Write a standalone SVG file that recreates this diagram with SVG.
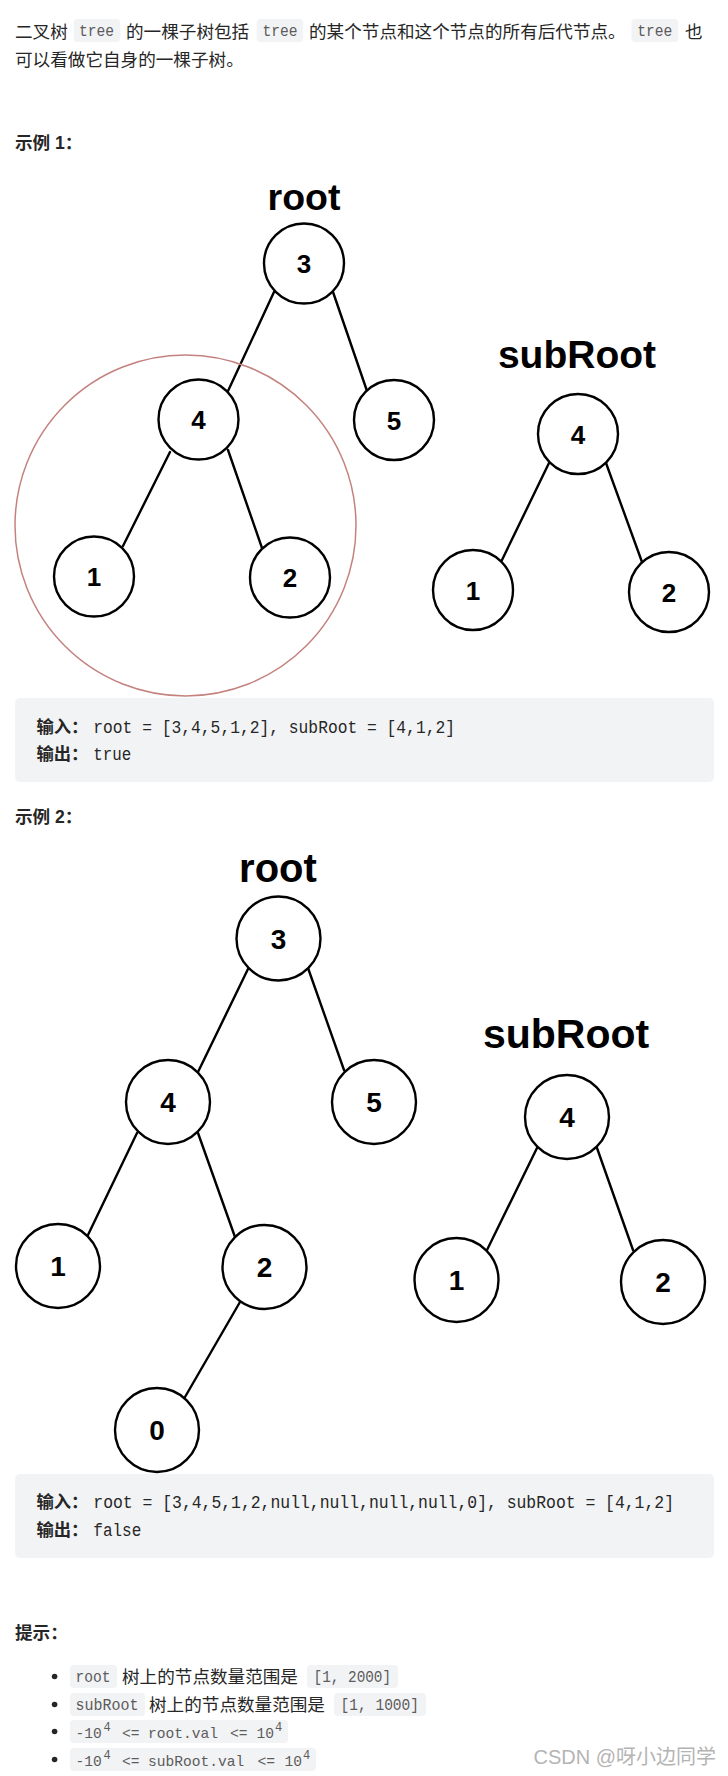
<svg xmlns="http://www.w3.org/2000/svg" width="728" height="1776" viewBox="0 0 728 1776">
<style>
.body{font-family:"Liberation Sans","Noto Sans CJK SC",sans-serif;font-size:17.6px;fill:#262626}
.bold{font-family:"Liberation Sans","Noto Sans CJK SC",sans-serif;font-size:17.6px;font-weight:bold;fill:#262626}
.chip{fill:#f2f3f5}
.chiptxt{font-family:"Liberation Mono","Noto Sans CJK SC",monospace;font-size:16px;fill:#5c5c5c}
.mathtxt{font-family:"Liberation Mono",monospace;font-size:14.6px;fill:#5c5c5c}
.sup{font-size:12px}
.code{font-family:"Liberation Mono","Noto Sans CJK SC",monospace;font-size:17.5px;fill:#262626}
.codecjk{font-family:"Noto Sans CJK SC",sans-serif;font-size:17px;font-weight:bold;fill:#262626}
.block{fill:#f2f3f5}
.node circle{fill:#fff;stroke:#000;stroke-width:2.4}
.n1 text{font-family:"Liberation Sans",Arial,sans-serif;font-size:26px;font-weight:bold;text-anchor:middle;fill:#000}
.n2 text{font-family:"Liberation Sans",Arial,sans-serif;font-size:28px;font-weight:bold;text-anchor:middle;fill:#000}
.lbl{font-family:"Liberation Sans",Arial,sans-serif;font-weight:bold;text-anchor:middle;fill:#000}
.edges line{stroke:#000;stroke-width:2.4;stroke-linecap:round}
</style>

<g id="intro">
<text class="body" x="15" y="38">二叉树</text>
<rect class="chip" x="73.7" y="19" width="46.7" height="23" rx="4"/>
<text class="chiptxt" x="79" y="36" textLength="35" lengthAdjust="spacingAndGlyphs">tree</text>
<text class="body" x="126" y="38">的一棵子树包括</text>
<rect class="chip" x="256.6" y="19" width="46.7" height="23" rx="4"/>
<text class="chiptxt" x="262.5" y="36" textLength="35" lengthAdjust="spacingAndGlyphs">tree</text>
<text class="body" x="309" y="38">的某个节点和这个节点的所有后代节点。</text>
<rect class="chip" x="631.4" y="19" width="46.7" height="23" rx="4"/>
<text class="chiptxt" x="637.2" y="36" textLength="35" lengthAdjust="spacingAndGlyphs">tree</text>
<text class="body" x="685" y="38">也</text>
<text class="body" x="15" y="66">可以看做它自身的一棵子树。</text>
</g>

<text class="bold" x="15" y="149">示例 1：</text>

<text class="lbl" x="304" y="210" font-size="37.5">root</text>
<text class="lbl" x="577" y="368" font-size="39">subRoot</text>

<g id="edges1" class="edges">
<line x1="274" y1="292" x2="228" y2="391"/>
<line x1="333" y1="292" x2="367" y2="391"/>
<line x1="170" y1="452" x2="123" y2="546"/>
<line x1="228" y1="450" x2="262" y2="548"/>
<line x1="549" y1="463" x2="502" y2="560"/>
<line x1="606" y1="463" x2="642" y2="562"/>
</g>

<g id="e1-n3" class="node n1"><circle cx="304" cy="263.5" r="40"/><text x="304" y="273">3</text></g>
<g id="e1-n4" class="node n1"><circle cx="198.5" cy="419.5" r="40"/><text x="198.5" y="429">4</text></g>
<g id="e1-n5" class="node n1"><circle cx="394" cy="420" r="40"/><text x="394" y="429.5">5</text></g>
<g id="e1-n1" class="node n1"><circle cx="94" cy="576.5" r="40"/><text x="94" y="586">1</text></g>
<g id="e1-n2" class="node n1"><circle cx="290" cy="577.5" r="40"/><text x="290" y="587">2</text></g>
<g id="e1-s4" class="node n1"><circle cx="578" cy="434" r="40"/><text x="578" y="443.5">4</text></g>
<g id="e1-s1" class="node n1"><circle cx="473" cy="590" r="40"/><text x="473" y="599.5">1</text></g>
<g id="e1-s2" class="node n1"><circle cx="669" cy="592" r="40"/><text x="669" y="601.5">2</text></g>

<ellipse id="highlight" cx="185.5" cy="525.5" rx="170.5" ry="170.5" fill="none" stroke="#c4827f" stroke-width="1.5"/>

<g id="code1">
<rect class="block" x="15" y="698" width="699" height="84" rx="5"/>
<text class="codecjk" x="36.4" y="733" textLength="52" lengthAdjust="spacingAndGlyphs">输入：</text>
<text class="code" x="93.3" y="733" textLength="361.7" lengthAdjust="spacingAndGlyphs">root = [3,4,5,1,2], subRoot = [4,1,2]</text>
<text class="codecjk" x="36.4" y="760" textLength="52" lengthAdjust="spacingAndGlyphs">输出：</text>
<text class="code" x="93.3" y="760" textLength="38" lengthAdjust="spacingAndGlyphs">true</text>
</g>

<text class="bold" x="15" y="823">示例 2：</text>

<text class="lbl" x="278" y="882" font-size="40">root</text>
<text class="lbl" x="566" y="1048" font-size="41">subRoot</text>

<g id="edges2" class="edges">
<line x1="248" y1="969" x2="198" y2="1072"/>
<line x1="308" y1="968" x2="344" y2="1070"/>
<line x1="137" y1="1133" x2="87" y2="1237"/>
<line x1="198" y1="1133" x2="235" y2="1237"/>
<line x1="240" y1="1302" x2="185" y2="1397"/>
<line x1="537" y1="1148" x2="487" y2="1250"/>
<line x1="597" y1="1148" x2="633" y2="1250"/>
</g>

<g id="e2-n3" class="node n2"><circle cx="278.5" cy="938.5" r="42"/><text x="278.5" y="948.5">3</text></g>
<g id="e2-n4" class="node n2"><circle cx="168" cy="1102" r="42"/><text x="168" y="1112">4</text></g>
<g id="e2-n5" class="node n2"><circle cx="374" cy="1102" r="42"/><text x="374" y="1112">5</text></g>
<g id="e2-n1" class="node n2"><circle cx="58" cy="1266" r="42"/><text x="58" y="1276">1</text></g>
<g id="e2-n2" class="node n2"><circle cx="264.5" cy="1267" r="42"/><text x="264.5" y="1277">2</text></g>
<g id="e2-n0" class="node n2"><circle cx="157" cy="1430" r="42"/><text x="157" y="1440">0</text></g>
<g id="e2-s4" class="node n2"><circle cx="567" cy="1117" r="42"/><text x="567" y="1127">4</text></g>
<g id="e2-s1" class="node n2"><circle cx="456.5" cy="1280" r="42"/><text x="456.5" y="1290">1</text></g>
<g id="e2-s2" class="node n2"><circle cx="663" cy="1282" r="42"/><text x="663" y="1292">2</text></g>

<g id="code2">
<rect class="block" x="15" y="1474" width="699" height="84" rx="5"/>
<text class="codecjk" x="36.4" y="1508" textLength="52" lengthAdjust="spacingAndGlyphs">输入：</text>
<text class="code" x="93.3" y="1508" textLength="580.7" lengthAdjust="spacingAndGlyphs">root = [3,4,5,1,2,null,null,null,null,0], subRoot = [4,1,2]</text>
<text class="codecjk" x="36.4" y="1536" textLength="52" lengthAdjust="spacingAndGlyphs">输出：</text>
<text class="code" x="93.3" y="1536" textLength="48" lengthAdjust="spacingAndGlyphs">false</text>
</g>

<text class="bold" x="15" y="1639">提示：</text>

<g id="hints">
<circle cx="54.6" cy="1676.5" r="2.8" fill="#262626"/>
<rect class="chip" x="70" y="1665" width="47" height="23" rx="4"/>
<text class="chiptxt" x="75.6" y="1682" textLength="35" lengthAdjust="spacingAndGlyphs">root</text>
<text class="body" x="122" y="1683">树上的节点数量范围是</text>
<rect class="chip" x="307" y="1665" width="91" height="23" rx="4"/>
<text class="chiptxt" x="313.6" y="1682" textLength="77.5" lengthAdjust="spacingAndGlyphs">[1, 2000]</text>

<circle cx="54.6" cy="1704.5" r="2.8" fill="#262626"/>
<rect class="chip" x="70" y="1693" width="75" height="23" rx="4"/>
<text class="chiptxt" x="75.6" y="1710" textLength="63" lengthAdjust="spacingAndGlyphs">subRoot</text>
<text class="body" x="149" y="1711">树上的节点数量范围是</text>
<rect class="chip" x="334" y="1693" width="92" height="23" rx="4"/>
<text class="chiptxt" x="340.6" y="1710" textLength="78.4" lengthAdjust="spacingAndGlyphs">[1, 1000]</text>

<circle cx="54.6" cy="1731.5" r="2.8" fill="#262626"/>
<rect class="chip" x="70" y="1720" width="218" height="23" rx="4"/>
<text class="mathtxt" y="1738"><tspan x="75.6">-10</tspan><tspan class="sup" x="103.6" y="1731">4</tspan><tspan x="122" y="1738">&lt;=</tspan><tspan x="148" y="1738">root.val</tspan><tspan x="230" y="1738">&lt;=</tspan><tspan x="256.6" y="1738">10</tspan><tspan class="sup" x="275" y="1731">4</tspan></text>

<circle cx="54.6" cy="1759.5" r="2.8" fill="#262626"/>
<rect class="chip" x="70" y="1748" width="246" height="23" rx="4"/>
<text class="mathtxt" y="1766"><tspan x="75.6">-10</tspan><tspan class="sup" x="103.6" y="1759">4</tspan><tspan x="122" y="1766">&lt;=</tspan><tspan x="148" y="1766">subRoot.val</tspan><tspan x="257.6" y="1766">&lt;=</tspan><tspan x="284.6" y="1766">10</tspan><tspan class="sup" x="303" y="1759">4</tspan></text>
</g>

<text id="watermark" x="716" y="1764" text-anchor="end" font-family="Liberation Sans,Noto Sans CJK SC,sans-serif" font-size="20" fill="#b4b4b4">CSDN @呀小边同学</text>
</svg>
